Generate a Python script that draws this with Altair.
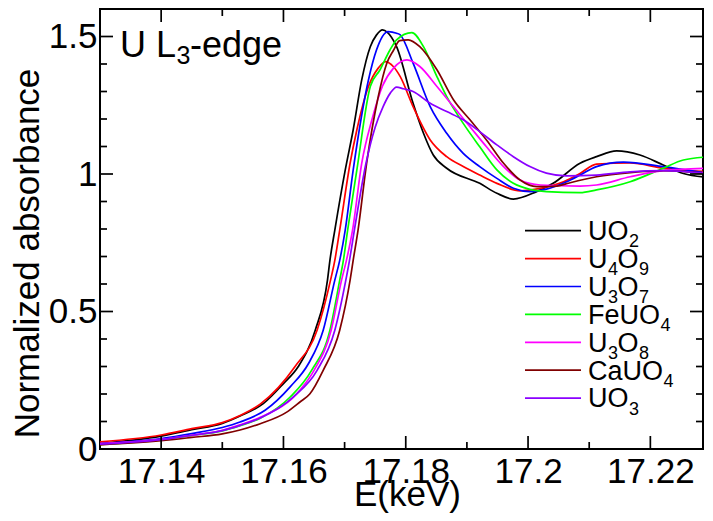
import altair as alt
import pandas as pd

FONT = "Liberation Sans"

# ---------------- data ----------------
names = ["UO2", "U4O9", "U3O7", "FeUO4", "U3O8", "CaUO4", "UO3"]
colors = ["#000000", "#ff0000", "#0000ff", "#00ff00", "#ff00ff", "#800000", "#8a00ff"]

uo2_e = [17.13, 17.14, 17.145, 17.15, 17.1529, 17.1567, 17.16, 17.1624, 17.1652, 17.1672, 17.1676, 17.1684,
         17.1701, 17.1714, 17.1728, 17.1742, 17.1752, 17.1762, 17.1770, 17.1785, 17.1812, 17.1829, 17.1845,
         17.1867, 17.1921, 17.1949, 17.1976, 17.2014, 17.2041, 17.2085, 17.2112, 17.2145, 17.2183, 17.2221,
         17.2254, 17.23]
uo2_v = [0.02, 0.047, 0.07, 0.093, 0.12, 0.165, 0.238, 0.299, 0.432, 0.614, 0.686, 0.796,
         1.014, 1.16, 1.342, 1.463, 1.505, 1.524, 1.515, 1.463, 1.257, 1.148, 1.069,
         1.021, 0.966, 0.93, 0.909, 0.936, 0.966, 1.039, 1.063, 1.084, 1.069, 1.033,
         1.002, 0.987]

u4o9_e = [17.13, 17.14, 17.145, 17.15, 17.1529, 17.1562, 17.1619, 17.1655, 17.1677, 17.1684, 17.1692, 17.1709,
          17.172, 17.1739, 17.1755, 17.1767, 17.1780, 17.1791, 17.1812, 17.184, 17.1867, 17.1894, 17.1921,
          17.1949, 17.1987, 17.202, 17.2058, 17.2085, 17.2112, 17.2167, 17.2221, 17.23]
u4o9_v = [0.026, 0.051, 0.074, 0.096, 0.122, 0.163, 0.3, 0.432, 0.614, 0.686, 0.796, 1.039,
          1.16, 1.318, 1.385, 1.409, 1.39, 1.354, 1.245, 1.124, 1.063, 1.027, 0.996,
          0.966, 0.939, 0.948, 0.972, 1.002, 1.036, 1.04, 1.021, 1.008]

u3o7_e = [17.13, 17.14, 17.145, 17.15, 17.1529, 17.157, 17.1611, 17.1641, 17.1665, 17.1684, 17.1692, 17.1701,
          17.1714, 17.1739, 17.1752, 17.1771, 17.1785, 17.1791, 17.1812, 17.184, 17.1867, 17.1894, 17.1921,
          17.1949, 17.1976, 17.2003, 17.203, 17.2063, 17.2085, 17.2112, 17.2156, 17.2221, 17.23]
u3o7_v = [0.02, 0.038, 0.056, 0.078, 0.098, 0.141, 0.226, 0.311, 0.432, 0.614, 0.686, 0.796,
          1.014, 1.342, 1.45, 1.518, 1.512, 1.506, 1.403, 1.245, 1.148, 1.075, 1.027,
          0.984, 0.948, 0.936, 0.945, 0.972, 0.996, 1.027, 1.043, 1.027, 1.0]

feuo4_e = [17.13, 17.14, 17.145, 17.15, 17.1529, 17.1562, 17.1611, 17.1646, 17.1676, 17.1692, 17.1698, 17.1705,
           17.172, 17.1742, 17.1758, 17.1774, 17.1785, 17.181, 17.1829, 17.1851, 17.1867, 17.1894, 17.1921,
           17.1949, 17.1976, 17.2003, 17.203, 17.2085, 17.2112, 17.2167, 17.2221, 17.2254, 17.23]
feuo4_v = [0.017, 0.033, 0.049, 0.066, 0.085, 0.112, 0.189, 0.286, 0.432, 0.614, 0.686, 0.796,
           1.014, 1.318, 1.379, 1.45, 1.488, 1.514, 1.463, 1.354, 1.281, 1.184, 1.099,
           1.015, 0.966, 0.944, 0.936, 0.932, 0.942, 0.972, 1.021, 1.051, 1.063]

u3o8_e = [17.13, 17.14, 17.145, 17.15, 17.1529, 17.1562, 17.1627, 17.165, 17.1678, 17.1695, 17.1703, 17.1713,
          17.1728, 17.1745, 17.1762, 17.178, 17.1802, 17.1823, 17.1851, 17.1878, 17.1905, 17.1932, 17.196,
          17.1987, 17.202, 17.2085, 17.2112, 17.2167, 17.2221, 17.23]
u3o8_v = [0.02, 0.035, 0.05, 0.068, 0.088, 0.115, 0.214, 0.286, 0.432, 0.614, 0.686, 0.796,
          1.039, 1.2, 1.32, 1.385, 1.415, 1.391, 1.318, 1.245, 1.172, 1.099, 1.027,
          0.978, 0.96, 0.956, 0.96, 0.99, 1.012, 1.021]

cauo4_e = [17.13, 17.14, 17.145, 17.15, 17.1529, 17.1562, 17.1606, 17.1627, 17.1643, 17.1665, 17.1692, 17.1709,
           17.1714, 17.1722, 17.1736, 17.1755, 17.1769, 17.178, 17.179, 17.1804, 17.1823, 17.1851, 17.1878,
           17.1905, 17.1932, 17.196, 17.1987, 17.2014, 17.2047, 17.2063, 17.2112, 17.2167, 17.2221, 17.23]
cauo4_v = [0.015, 0.03, 0.042, 0.055, 0.069, 0.092, 0.135, 0.171, 0.2, 0.286, 0.432, 0.614,
           0.686, 0.796, 1.039, 1.281, 1.403, 1.45, 1.485, 1.488, 1.463, 1.379, 1.27,
           1.197, 1.124, 1.039, 0.978, 0.954, 0.956, 0.965, 0.99, 1.005, 1.012, 1.0]

uo3_e = [17.13, 17.14, 17.145, 17.15, 17.1529, 17.1562, 17.1616, 17.1655, 17.1684, 17.1702, 17.1708, 17.1716,
         17.1735, 17.175, 17.1763, 17.1775, 17.1785, 17.1796, 17.1812, 17.184, 17.1867, 17.1894, 17.1921,
         17.1949, 17.1976, 17.2003, 17.203, 17.2063, 17.2112, 17.2167, 17.2221, 17.23]
uo3_v = [0.018, 0.034, 0.05, 0.067, 0.086, 0.113, 0.189, 0.286, 0.432, 0.614, 0.686, 0.796,
         1.039, 1.17, 1.245, 1.295, 1.316, 1.31, 1.3, 1.257, 1.227, 1.197, 1.154,
         1.106, 1.063, 1.027, 1.003, 0.993, 0.996, 1.008, 1.012, 1.0]

x_major = [17.14, 17.16, 17.18, 17.2, 17.22]
x_minor = [17.15, 17.17, 17.19, 17.21]
y_major = [0, 0.5, 1, 1.5]
y_minor = [0.1, 0.2, 0.3, 0.4, 0.6, 0.7, 0.8, 0.9, 1.1, 1.2, 1.3, 1.4]

title_text = "U L3-edge"
x_title = "E(keV)"
y_title = "Normalized absorbance"

# ---------------- layout constants ----------------
PX_PER_KEV = 6115.0
W, H = 603, 440
MAJ, MIN = 13, 7
E_DOM = [17.13, 17.13 + W / PX_PER_KEV]
A_DOM = [0, 1.6]

series = {
    "UO2": (uo2_e, uo2_v), "U4O9": (u4o9_e, u4o9_v), "U3O7": (u3o7_e, u3o7_v),
    "FeUO4": (feuo4_e, feuo4_v), "U3O8": (u3o8_e, u3o8_v), "CaUO4": (cauo4_e, cauo4_v),
    "UO3": (uo3_e, uo3_v),
}
rows = []
for n in names:
    e, v = series[n]
    assert len(e) == len(v), n
    for k, (a, b) in enumerate(zip(e, v)):
        rows.append({"name": n, "E": a, "A": b, "k": k})
df = pd.DataFrame(rows)

x_scale = alt.Scale(domain=E_DOM, nice=False, zero=False)
y_scale = alt.Scale(domain=A_DOM, nice=False, zero=False)
color_scale = alt.Scale(domain=names, range=colors)

x_axis = alt.Axis(
    values=x_major, format=".2~f", labelBaseline="alphabetic", labelPadding=33,
    title=x_title, titleBaseline="alphabetic", titleY=56, titleX=307, titleAlign="center")
y_axis = alt.Axis(
    values=y_major, format=".1~f", labelPadding=3, labelBaseline="middle",
    title=y_title, titleX=-62, titleY=244, titleAngle=270, titleAlign="center",
    titleBaseline="alphabetic")

lines = alt.Chart(df).mark_line(strokeWidth=1.7, interpolate="monotone", clip=True).encode(
    x=alt.X("E:Q", scale=x_scale, axis=x_axis),
    y=alt.Y("A:Q", scale=y_scale, axis=y_axis),
    color=alt.Color("name:N", scale=color_scale, legend=None),
    order="k:Q",
)


def xticks(vals, length, top):
    d = pd.DataFrame({"E": vals})
    y0 = 0 if top else H
    y1 = length if top else H - length
    return alt.Chart(d).mark_rule(color="black", strokeWidth=1.7).encode(
        x=alt.X("E:Q", scale=x_scale, axis=x_axis), y=alt.value(y0), y2=alt.value(y1))


def yticks(vals, length, right):
    d = pd.DataFrame({"A": vals})
    x0 = W if right else 0
    x1 = W - length if right else length
    return alt.Chart(d).mark_rule(color="black", strokeWidth=1.7).encode(
        y=alt.Y("A:Q", scale=y_scale, axis=y_axis), x=alt.value(x0), x2=alt.value(x1))


ticks = [xticks(x_major, MAJ, False), xticks(x_minor, MIN, False),
         xticks(x_major, MAJ, True), xticks(x_minor, MIN, True),
         yticks(y_major, MAJ, False), yticks(y_minor, MIN, False),
         yticks(y_major, MAJ, True), yticks(y_minor, MIN, True)]

# ---------------- text with subscripts (digits are subscripts) ----------------
CW = {"U": .722, "O": .778, "F": .611, "e": .556, "C": .722, "a": .556, "L": .556,
      " ": .278, "-": .333, "d": .556, "g": .556}


def pieces(text, x0, ybase, fs, sfs, sub_drop):
    out = []
    cur = x0
    buf, buf_sub, start = "", None, x0
    for ch in text:
        is_sub = ch.isdigit()
        if buf and is_sub != buf_sub:
            out.append((buf, buf_sub, start))
            buf = ""
        if not buf:
            start = cur
            buf_sub = is_sub
        buf += ch
        cur += (0.556 * sfs) if is_sub else CW.get(ch, 0.556) * fs
    if buf:
        out.append((buf, buf_sub, start))
    res = []
    for t, s, px in out:
        res.append({"t": t, "px": px + (0.5 if s else 0), "py": ybase + (sub_drop if s else 0),
                    "fs": sfs if s else fs})
    return res


LEG_Y0, LEG_DY = 221.7, 27.9
LEG_X1, LEG_X2, LEG_TX = 425, 481, 488
txt_rows = []
leg_rows = []
for i, n in enumerate(names):
    ly = LEG_Y0 + i * LEG_DY
    leg_rows.append({"name": n, "py": ly})
    txt_rows += pieces(n, LEG_TX, ly + 9.3, 27, 18, 7.3)
txt_rows += pieces(title_text, 20, 47.7, 36, 25, 6.8)
txt_df = pd.DataFrame(txt_rows)
leg_df = pd.DataFrame(leg_rows)

leg_lines = alt.Chart(leg_df).mark_rule(strokeWidth=1.7).encode(
    x=alt.value(LEG_X1), x2=alt.value(LEG_X2),
    y=alt.Y("py:Q", scale=None),
    color=alt.Color("name:N", scale=color_scale, legend=None),
)

texts = alt.Chart(txt_df).mark_text(align="left", baseline="alphabetic", font=FONT, color="black").encode(
    x=alt.X("px:Q", scale=None),
    y=alt.Y("py:Q", scale=None),
    size=alt.Size("fs:Q", scale=None, legend=None),
    text="t:N",
)

inner = alt.layer(lines, *ticks)
overlay = alt.layer(leg_lines, texts)

chart = alt.layer(inner, overlay).resolve_scale(
    x="independent", y="independent"
).properties(
    width=W, height=H,
    autosize=alt.AutoSizeParams(type="none"),
    padding={"left": 92, "top": 1, "right": 1, "bottom": 64},
    background="white",
).configure_view(
    stroke="black", strokeWidth=2
).configure_axis(
    grid=False, domain=False, ticks=False,
    labelFont=FONT, labelFontSize=35, labelColor="black",
    titleFont=FONT, titleFontSize=35, titleColor="black", titleFontWeight="normal",
    labelOverlap=False, labelFlush=False,
)

chart.save("out.html", embed_options={"renderer": "svg", "actions": False})
